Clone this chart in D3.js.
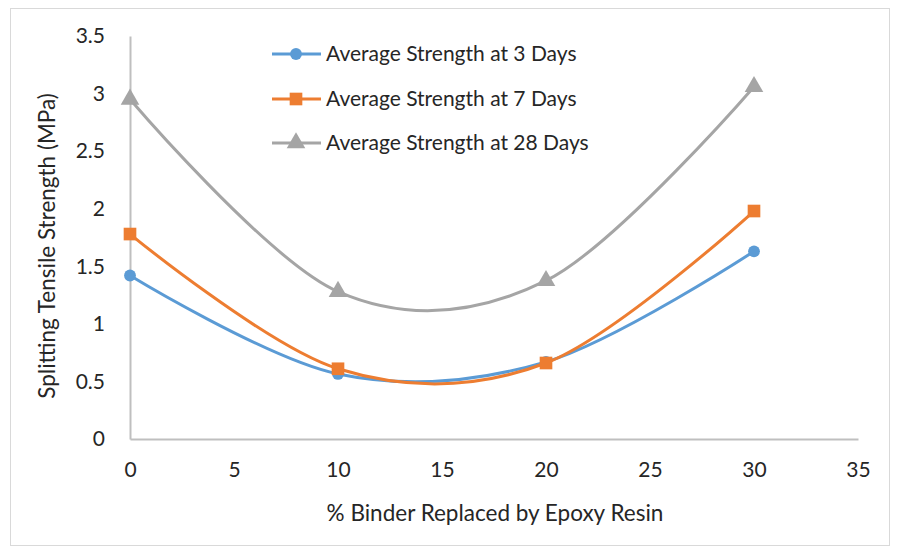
<!DOCTYPE html>
<html><head><meta charset="utf-8">
<script src="https://cdn.jsdelivr.net/npm/d3@7"></script>
<style>body{margin:0;background:#fff}svg{display:block}text{font-family:Lato,"Open Sans",sans-serif;fill:#262626}</style>
</head><body>
<svg id="c" width="899" height="549"></svg>
<script>
const xValues = [0, 10, 20, 30];
const strength3 = [1.42, 0.565, 0.67, 1.63];
const strength7 = [1.78, 0.61, 0.66, 1.98];
const strength28 = [2.95, 1.28, 1.375, 3.06];
const seriesNames = ["Average Strength at 3 Days", "Average Strength at 7 Days", "Average Strength at 28 Days"];
const xTicks = [0, 5, 10, 15, 20, 25, 30, 35];
const yTicks = [0, 0.5, 1, 1.5, 2, 2.5, 3, 3.5];
const colors = ["#5B9BD5", "#ED7D31", "#A5A5A5"];
const shapes = [d3.symbolCircle, d3.symbolSquare, d3.symbolTriangle];

const svg = d3.select("#c");
svg.append("rect").attr("x",10.5).attr("y",8.5).attr("width",879).attr("height",537)
  .attr("fill","#fff").attr("stroke","#D9D9D9");

const x = d3.scaleLinear().domain([0,35]).range([130,858]);
const y = d3.scaleLinear().domain([0,3.5]).range([439,36]);

const xa = svg.append("g").attr("transform","translate(0,439)").call(d3.axisBottom(x).tickValues(xTicks).tickSize(0).tickPadding(23));
const ya = svg.append("g").attr("transform","translate(130,0)").call(d3.axisLeft(y).tickValues(yTicks).tickSize(0).tickPadding(25).tickFormat(d3.format("")));
[xa,ya].forEach(g=>{g.select(".domain").attr("stroke","#BFBFBF").attr("stroke-width",2);
  g.selectAll("text").style("font-size","21px").style("font-family","Lato,sans-serif").attr("fill","#262626");});

svg.append("text").attr("x",495).attr("y",521).attr("text-anchor","middle").style("font-size","22.5px").text("% Binder Replaced by Epoxy Resin");
svg.append("text").attr("transform","translate(55,246) rotate(-90)").attr("text-anchor","middle").style("font-size","22.5px").text("Splitting Tensile Strength (MPa)");

const all = [strength3, strength7, strength28];
const line = d3.line().x((d,i)=>x(xValues[i])).y(d=>y(d)).curve(d3.curveCatmullRom.alpha(0));
const sizes = [110, 160, 150];
all.forEach((vals,k)=>{
  svg.append("path").datum(vals).attr("d",line).attr("fill","none").attr("stroke",colors[k]).attr("stroke-width",3);
});
all.forEach((vals,k)=>{
  svg.selectAll(null).data(vals).enter().append("path")
    .attr("d", d3.symbol().type(shapes[k]).size(sizes[k]))
    .attr("transform",(d,i)=>`translate(${x(xValues[i])},${y(d)})`)
    .attr("fill",colors[k]);
});

const ly = [54, 99, 143];
seriesNames.forEach((n,k)=>{
  svg.append("line").attr("x1",272).attr("x2",321).attr("y1",ly[k]).attr("y2",ly[k]).attr("stroke",colors[k]).attr("stroke-width",3);
  svg.append("path").attr("d", d3.symbol().type(shapes[k]).size(sizes[k])).attr("transform",`translate(296,${ly[k]})`).attr("fill",colors[k]);
  svg.append("text").attr("x",326).attr("y",ly[k]).attr("dy","0.35em").style("font-size","21px").text(n);
});
</script>
</body></html>
